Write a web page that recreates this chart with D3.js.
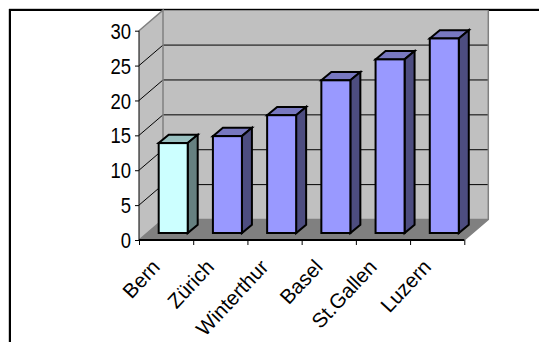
<!DOCTYPE html>
<html>
<head>
<meta charset="utf-8">
<script src="https://cdn.jsdelivr.net/npm/d3@7"></script>
<style>
html,body{margin:0;padding:0;background:#fff;}
svg{display:block;}
text{font-family:"Liberation Sans",Arial,sans-serif;fill:#000;}
</style>
</head>
<body>
<script>
// Chart data
const cities = ["Bern","Zürich","Winterthur","Basel","St.Gallen","Luzern"];
const counts = [13,14,17,22,25,28];
const yTicks = [0,5,10,15,20,25,30];

const W = 539, H = 342;
const svg = d3.select("body").append("svg").attr("width",W).attr("height",H);

// Outer chart frame: open on the right and at the bottom
svg.append("path").attr("d","M9,342V9H539").attr("fill","none").attr("stroke","#999").attr("stroke-width",1);
svg.append("path").attr("d","M10,342V10H539").attr("fill","none").attr("stroke","#000").attr("stroke-width",2);

// Scales for the front plane of the 3D box
const x = d3.scaleBand().domain(cities).range([139,464.3]);
const y = d3.scaleLinear().domain([0,30]).range([240,30.7]);
const edge = d3.scaleLinear().domain([0,cities.length]).range(x.range());

// Depth of the box and of each column
const depthX = 24, depthY = 20.5;
const barDepthX = 10, barDepthY = 8.3;
const barShiftX = 8.4, barShiftY = 7, barTopShiftY = 6.2;
const barInset = 11.3, barW = 29;

const x0 = x.range()[0], x1 = x.range()[1], yB = y(0), yT = y(30);
const poly = pts => pts.map(p => p.join(",")).join(" ");

// Side wall
svg.append("polygon").attr("fill","#c0c0c0")
  .attr("points",poly([[x0,yB],[x0,yT],[x0+depthX,yT-depthY],[x0+depthX,yB-depthY]]));
// Back wall
svg.append("polygon").attr("fill","#c0c0c0")
  .attr("points",poly([[x0+depthX,yT-depthY],[x1+depthX,yT-depthY],[x1+depthX,yB-depthY],[x0+depthX,yB-depthY]]));
// Floor
svg.append("polygon").attr("fill","#808080")
  .attr("points",poly([[x0,yB],[x1,yB],[x1+depthX,yB-depthY],[x0+depthX,yB-depthY]]));

// Gridlines across side and back walls
const grid = svg.append("g").attr("fill","none").attr("stroke","#000").attr("stroke-width",1);
yTicks.filter(v => v > 0 && v < 30).forEach(v => {
  grid.append("path").attr("d",`M${x0},${y(v)}L${x0+depthX},${y(v)-depthY}H${x1+depthX}`);
});

// Wall outlines
svg.append("path").attr("fill","none").attr("stroke","#808080").attr("stroke-width",1.5)
  .attr("d",`M${x0},${yT}L${x0+depthX},${yT-depthY}V${yB-depthY}M${x1+depthX},${yT-depthY}V${yB-depthY}L${x1},${yB}M${x0},${yB}L${x0+depthX},${yB-depthY}H${x1+depthX}`);

// Columns
const bars = svg.append("g").selectAll("g").data(cities).join("g")
  .attr("stroke","#000").attr("stroke-width",2).attr("stroke-linejoin","miter");
const isFirst = i => i === 0;
const barLeft = d => x(d) + barInset + barShiftX;
const barBase = yB - barShiftY;
const barTop = i => y(counts[i]) - barTopShiftY;

bars.append("polygon")
  .attr("fill",(d,i) => isFirst(i) ? "#99c0c0" : "#7878c0")
  .attr("points",(d,i) => poly([[barLeft(d),barTop(i)],[barLeft(d)+barW,barTop(i)],[barLeft(d)+barW+barDepthX,barTop(i)-barDepthY],[barLeft(d)+barDepthX,barTop(i)-barDepthY]]));
bars.append("polygon")
  .attr("fill",(d,i) => isFirst(i) ? "#668080" : "#4d4d80")
  .attr("points",(d,i) => poly([[barLeft(d)+barW,barTop(i)],[barLeft(d)+barW+barDepthX,barTop(i)-barDepthY],[barLeft(d)+barW+barDepthX,barBase-barDepthY],[barLeft(d)+barW,barBase]]));
bars.append("rect")
  .attr("x",d => barLeft(d)).attr("y",(d,i) => barTop(i))
  .attr("width",barW).attr("height",(d,i) => barBase - barTop(i))
  .attr("fill",(d,i) => isFirst(i) ? "#ccffff" : "#9999ff");

// Value axis
const yAxis = svg.append("g").attr("transform",`translate(${x0},0)`)
  .call(d3.axisLeft(y).tickValues(yTicks).tickSize(4).tickPadding(4));
yAxis.selectAll("path,line").attr("stroke","#000").attr("stroke-width",1);
yAxis.select(".domain").attr("d",`M0,${yT}V${yB}`);
yAxis.selectAll("text").attr("font-size",18.5).attr("dy",null)
  .attr("dominant-baseline","central")
  .attr("transform","scale(1,1.18)")
  .attr("y",0);

// Category axis: ticks on category boundaries
const xAxis = svg.append("g").attr("transform",`translate(0,${yB})`)
  .call(d3.axisBottom(edge).tickValues(d3.range(cities.length+1)).tickSize(5).tickFormat(""));
xAxis.selectAll("line").attr("stroke","#000").attr("stroke-width",1);
xAxis.select(".domain").attr("d",`M${x0},0H${x1}`).attr("stroke","#000").attr("stroke-width",2);

svg.append("g").selectAll("text").data(cities).join("text")
  .attr("text-anchor","end")
  .attr("font-size",20.5)
  .attr("transform",d => `translate(${x(d)+x.bandwidth()/2-5},${yB+28}) rotate(-47)`)
  .text(d => d);
</script>
</body>
</html>
